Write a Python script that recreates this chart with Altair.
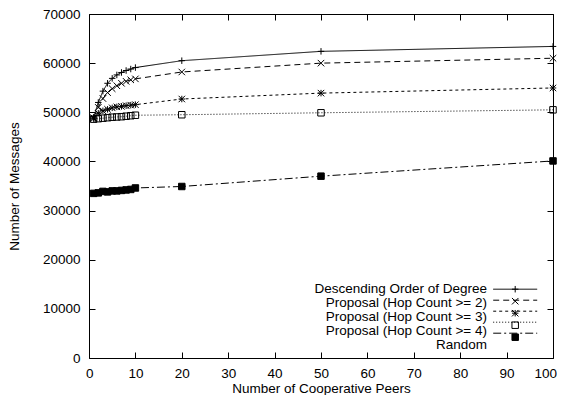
import json
import altair as alt
import pandas as pd

# ---- data ----
peers = [1, 2, 3, 4, 5, 6, 7, 8, 9, 10, 20, 50, 100]
series_names = [
    "Descending Order of Degree",
    "Proposal (Hop Count >= 2)",
    "Proposal (Hop Count >= 3)",
    "Proposal (Hop Count >= 4)",
    "Random",
]
descending = [49000, 52000, 54300, 55900, 56900, 57600, 58100, 58500, 58800, 59100, 60500, 62400, 63400]
hop2 = [48900, 51000, 52800, 54000, 54800, 55400, 55900, 56300, 56600, 56800, 58200, 60000, 61000]
hop3 = [48700, 49800, 50300, 50600, 50900, 51100, 51200, 51350, 51450, 51550, 52700, 53900, 54950]
hop4 = [48600, 48700, 48800, 48900, 49000, 49050, 49100, 49200, 49300, 49400, 49500, 49900, 50500]
random_order = [33500, 33600, 33900, 33800, 34000, 34000, 34100, 34200, 34300, 34600, 34900, 37000, 40100]

x_ticks = list(range(0, 101, 10))
y_ticks = list(range(0, 70001, 10000))

# ---- styles ----
dashes = [[1, 0], [6, 4], [3, 3], [1, 2], [8, 3, 2, 3]]
shapes = [
    "M-1,0H1M0,-1V1",
    "M-1,-1L1,1M-1,1L1,-1",
    "M-1,0H1M0,-1V1M-1,-1L1,1M-1,1L1,-1",
    "square",
    "square",
]
fills = ["transparent", "transparent", "transparent", "transparent", "black"]

n = len(series_names)
all_series = [descending, hop2, hop3, hop4, random_order]
rows = []
for i, (name, vals) in enumerate(zip(series_names, all_series)):
    for xv, yv in zip(peers, vals):
        rows.append({"x": xv, "y": yv, "series": name, "idx": i, "lab": i + n})
df = pd.DataFrame(rows)
idx_domain = list(range(n))
lab_domain = list(range(n, 2 * n))

W, H = 464, 344
TICK = 6
FONT = "Liberation Sans"
FS = 13.5

x_axis = alt.Axis(
    values=x_ticks, format="d", title="Number of Cooperative Peers",
    grid=True, gridColor="black", gridOpacity=1, gridWidth=1, gridDash=[TICK, H - 2 * TICK],
    ticks=False, domain=False, labelFlush=True, labelFlushOffset=3.5, labelOverlap=False,
    labelFont=FONT, labelFontSize=FS, labelColor="black", labelPadding=8,
    titleFont=FONT, titleFontSize=FS, titleFontWeight="normal", titleColor="black", titlePadding=2,
)
y_axis = alt.Axis(
    values=y_ticks, format="d", title="Number of Messages",
    grid=True, gridColor="black", gridOpacity=1, gridWidth=1, gridDash=[TICK, W - 2 * TICK],
    ticks=False, domain=False, labelFlush=False, labelOverlap=False,
    labelFont=FONT, labelFontSize=FS, labelColor="black", labelPadding=9,
    titleFont=FONT, titleFontSize=FS, titleFontWeight="normal", titleColor="black", titlePadding=21,
)

x_enc = alt.X("x:Q", scale=alt.Scale(domain=[0, 100], nice=False), axis=x_axis)
y_enc = alt.Y("y:Q", scale=alt.Scale(domain=[0, 70000], nice=False), axis=y_axis)

LEG_X = 421
LEG_Y = 270
ROW_H = 10.4

# line samples only (blank labels whose height sets the row pitch)
line_legend = alt.Legend(
    title=None, orient="none", legendX=LEG_X, legendY=LEG_Y, padding=0,
    symbolType="M-5.5,0H5.5", symbolSize=64, symbolStrokeWidth=1,
    labelExpr="' '", labelFontSize=ROW_H, rowPadding=0,
)
# markers only (same row pitch)
point_legend = alt.Legend(
    title=None, orient="none", legendX=LEG_X, legendY=LEG_Y, padding=0,
    symbolSize=42, symbolStrokeWidth=1,
    labelExpr="' '", labelFontSize=ROW_H, rowPadding=0,
)
# text only: right-aligned labels left of the samples
label_expr = json.dumps(series_names) + f"[datum.value - {n}]"
label_legend = alt.Legend(
    title=None, orient="none", legendX=403, legendY=LEG_Y, padding=0,
    symbolType="stroke", symbolSize=44 * 44, symbolStrokeWidth=1,
    symbolStrokeColor="transparent", symbolFillColor="transparent",
    labelExpr=label_expr, labelAlign="right", labelOffset={"expr": "-50"}, labelLimit=400,
    labelFont=FONT, labelFontSize=FS, labelColor="black",
    clipHeight=ROW_H, rowPadding=0,
)

base = alt.Chart(df)
lines = base.mark_line(color="black", strokeWidth=1).encode(
    x=x_enc,
    y=y_enc,
    strokeDash=alt.StrokeDash(
        "series:N", scale=alt.Scale(domain=series_names, range=dashes), legend=line_legend
    ),
    strokeWidth=alt.StrokeWidth(
        "lab:O", scale=alt.Scale(domain=lab_domain, range=[1] * n), legend=label_legend
    ),
)
points = base.mark_point(filled=True, size=42, stroke="black", strokeWidth=1, opacity=1).encode(
    x=x_enc,
    y=y_enc,
    shape=alt.Shape("idx:N", scale=alt.Scale(domain=idx_domain, range=shapes), legend=point_legend),
    fill=alt.Fill("idx:N", scale=alt.Scale(domain=idx_domain, range=fills), legend=point_legend),
)

chart = (
    alt.layer(lines, points)
    .properties(
        width=W, height=H,
        autosize=alt.AutoSizeParams(type="none"),
        padding={"left": 81, "top": 6, "right": 4, "bottom": 37},
        background="white",
    )
    .configure_view(stroke="black", strokeWidth=1)
)

chart.save("out.html", embed_options={"renderer": "svg", "actions": False})
